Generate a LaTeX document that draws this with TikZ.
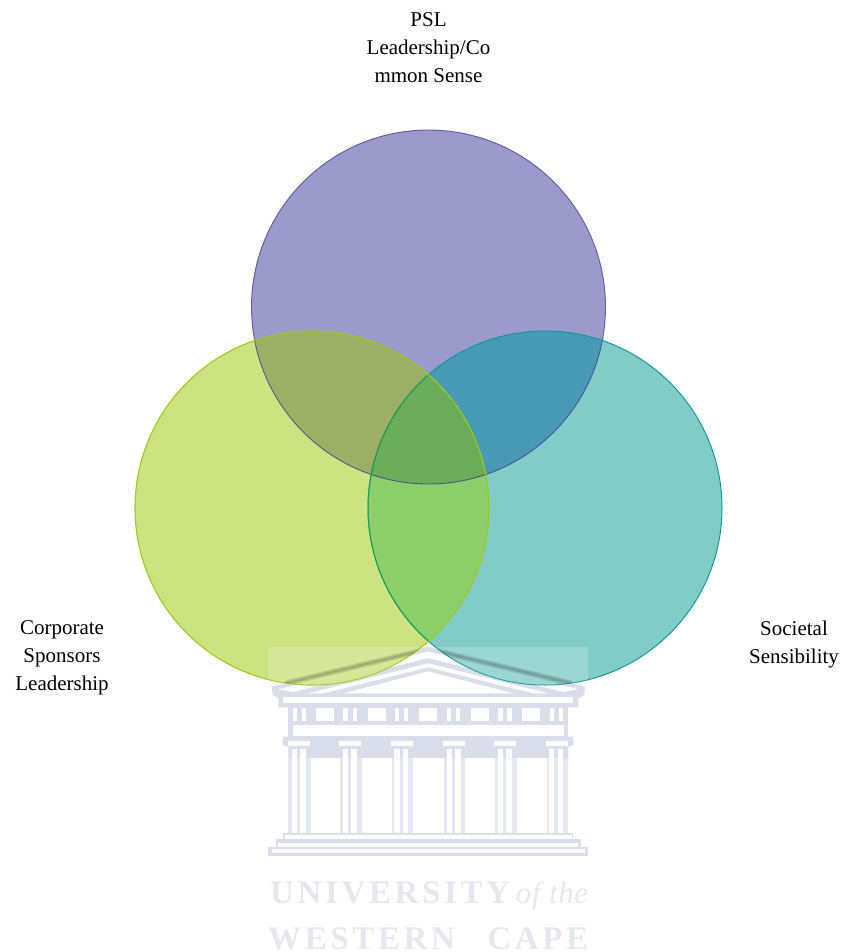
\documentclass[tikz,border=0pt]{standalone}
\usepackage{fontspec}
\setmainfont{Liberation Serif}
\newfontfamily\wmfont[LetterSpace=11]{Liberation Serif}
\definecolor{cP}{HTML}{9C99CB}
\definecolor{cG}{HTML}{CDE280}
\definecolor{cT}{HTML}{82CCC8}
\definecolor{cPG}{HTML}{9DAE66}
\definecolor{cPT}{HTML}{4799B5}
\definecolor{cGT}{HTML}{8CCF6A}
\definecolor{cPGT}{HTML}{6BAB5A}
\definecolor{eP}{HTML}{3A3795}
\definecolor{eG}{HTML}{9CCB19}
\definecolor{eT}{HTML}{0E9A9A}
\definecolor{tmp}{HTML}{DADDEA}
\definecolor{tmplight}{HTML}{E6E8F1}
\definecolor{wm}{HTML}{E6E8F0}
\newcommand\circP{(428.5,307) circle (177pt)}
\newcommand\circG{(312,508) circle (177pt)}
\newcommand\circT{(545,508) circle (177pt)}
\tikzset{
  lab/.style={align=center,inner sep=0pt,font=\fontsize{21}{28}\selectfont},
  wmtext/.style={inner sep=0pt,text=wm,font=\fontsize{33}{33}\selectfont\bfseries\wmfont},
  tb/.style={fill=tmp},
  wb/.style={fill=white},
  streak/.style={line cap=round,black,opacity=.09}
}
\begin{document}
\begin{tikzpicture}[x=1pt,y=-1pt]
\useasboundingbox (0,0) rectangle (840,952);
% watermark temple, in 3x zoom coordinates
\begin{scope}[shift={(250,630)},xscale=1/3,yscale=1/3]
  \fill[tb] (535,50) -- (1005,170) -- (1003,195) -- (985,205) -- (985,232) -- (85,232) -- (85,205) -- (68,195) -- (65,170) -- cycle;
  \fill[wb] (535,64) -- (985,178) -- (940,186) -- (535,84) -- (130,186) -- (85,178) -- cycle;
  \fill[wb] (535,100) -- (895,190) -- (850,190) -- (535,112) -- (220,190) -- (175,190) -- cycle;
  \fill[wb] (535,124) -- (790,190) -- (280,190) -- cycle;
  \fill[wb] (100,200) rectangle (970,220);
  \fill[tb] (115,230) rectangle (955,320);
  \foreach \a in {198,353,507,662,816} \fill[wb] (\a,235) rectangle (\a+55,273);
  \foreach \a in {128,155,280,308,435,462,590,618,745,772,900,927} \fill[wb] (\a,235) rectangle (\a+13,273);
  \fill[wb] (128,285) rectangle (942,318);
  \fill[tb] (98,320) -- (970,320) -- (970,345) -- (955,350) -- (955,385) -- (115,385) -- (115,350) -- (98,345) -- cycle;
  \fill[tmplight] (115,385) rectangle (955,610);
  \foreach \a in {115,268,423,580,733,887} {
    \fill[wb] (\a,332) rectangle (\a+66,347);
    \fill[wb] (\a+10,358) rectangle (\a+26,610);
    \fill[wb] (\a+36,358) rectangle (\a+52,610);
  }
  \foreach \a/\b in {182/270,335/427,490/581,645/735,800/890} \fill[wb] (\a,385) rectangle (\b,608);
  \fill[tb] (100,610) rectangle (970,632);
  \fill[wb] (104,615) rectangle (965,626);
  \fill[tb] (78,628) rectangle (992,652);
  \fill[wb] (85,638) rectangle (985,650);
  \fill[tb] (55,650) rectangle (1013,678);
  \fill[wb] (65,657) rectangle (1005,670);
\end{scope}
\node[wmtext,anchor=base west] (wmone) at (270,903) {\makebox[318pt][s]{UNIVERSITY\hfill{\fontspec{Liberation Serif}[LetterSpace=2]\fontsize{31}{31}\selectfont\itshape\mdseries of the}}};
\node[wmtext,anchor=base west] (wmtwo) at (268,949.5) {\makebox[320pt][s]{WESTERN\hfill CAPE}};
% circle regions
\fill[cP] \circP;
\fill[cG] \circG;
\fill[cT] \circT;
\begin{scope}\clip \circP; \fill[cPG] \circG; \fill[cPT] \circT; \end{scope}
\begin{scope}\clip \circG; \fill[cGT] \circT; \end{scope}
\begin{scope}\clip \circP; \clip \circG; \fill[cPGT] \circT; \end{scope}
% outlines
\draw[eP,line width=.9pt,opacity=.75] \circP;
\draw[eT,line width=1pt] \circT;
\begin{scope}\clip \circG; \draw[color=cPGT!30!green!70!black,line width=1pt,opacity=.6] \circT; \end{scope}
\draw[eG,line width=1.1pt] \circG;
% translucent part of the watermark over the circles
\begin{scope}
  \clip (268,647) rectangle (588,700);
  \fill[white,opacity=.2] \circG;
  \fill[white,opacity=.2] \circT;
\end{scope}
\begin{scope}
  \clip \circG;
  \foreach \w in {6,4,2} \draw[streak,line width=\w pt] (287,683) -- (428,649);
\end{scope}
\begin{scope}
  \clip \circT;
  \foreach \w in {6,4,2} \draw[streak,line width=\w pt] (570,683) -- (429,649);
\end{scope}
% labels
\node[lab] (psl) at (428.5,48) {PSL\\Leadership/Co\\mmon Sense};
\node[lab] (corp) at (62,658) {Corporate\\Sponsors\\Leadership};
\node[lab] (soc) at (794,644) {Societal\\Sensibility};
\end{tikzpicture}
\end{document}
